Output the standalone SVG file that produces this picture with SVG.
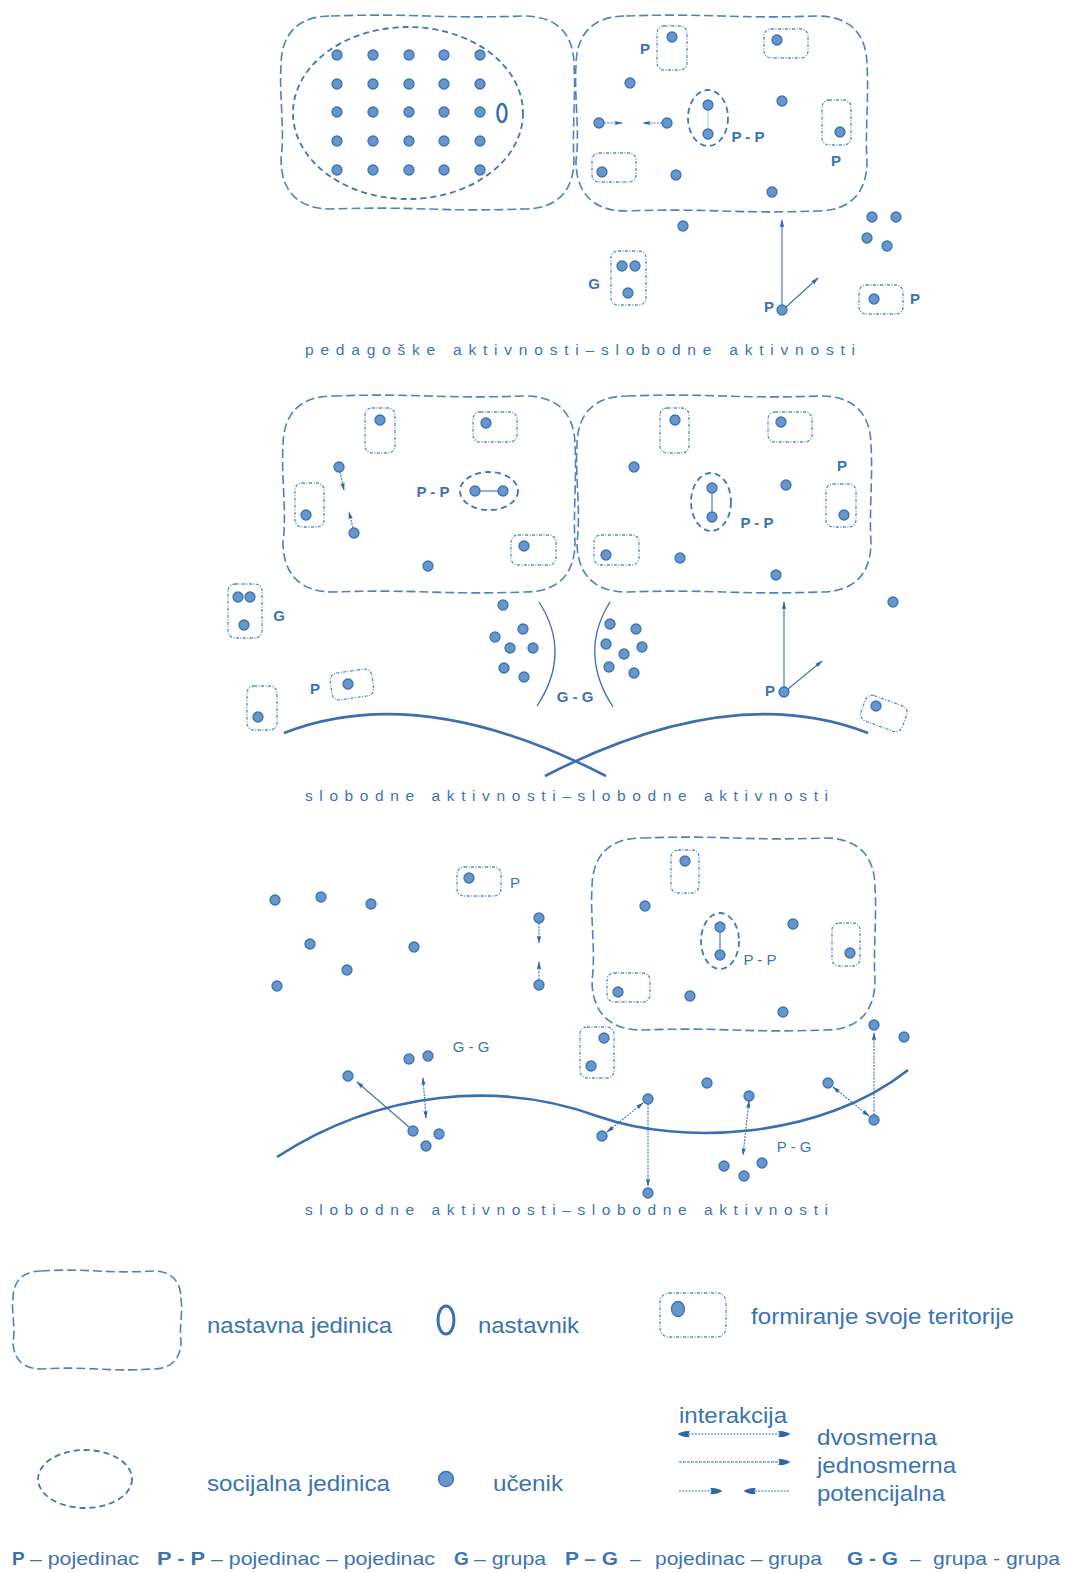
<svg xmlns="http://www.w3.org/2000/svg" width="1068" height="1573" viewBox="0 0 1068 1573">
<defs>
<style>
.blob{fill:none;stroke:#4b82c0;stroke-width:1.6;stroke-dasharray:9 4}
.terr{fill:none;stroke:#5a8cc6;stroke-width:1.3;stroke-dasharray:3 1.5 1 1.5}
.soc{fill:none;stroke:#3f76b5;stroke-width:1.8;stroke-dasharray:6 4}
.dot{fill:#6597cd;stroke:#3d72b2;stroke-width:1.3}
.ln{stroke:#3d72b2;stroke-width:1.1;fill:none}
.dt{stroke-dasharray:2 1.2}
.curve{fill:none;stroke:#3a6fb0;stroke-width:2.6}
.arc{fill:none;stroke:#3a6fb0;stroke-width:1.3}
.lbl{font-family:"Liberation Sans",Arial,sans-serif;font-weight:bold;font-size:15px;fill:#3c73b3;text-anchor:middle}
.lbn{font-family:"Liberation Sans",Arial,sans-serif;font-size:15px;fill:#3c73b3;text-anchor:middle}
.cap{font-family:"Liberation Sans",Arial,sans-serif;font-size:15.5px;fill:#3c73b3}
.leg{font-family:"Liberation Sans",Arial,sans-serif;font-size:22px;fill:#3c73b3}
.foot{font-family:"Liberation Sans",Arial,sans-serif;font-size:19px;fill:#3c73b3}
.b{font-weight:bold}
</style>
<marker id="ah" viewBox="0 0 10 6" refX="9" refY="3" markerWidth="8" markerHeight="6" markerUnits="userSpaceOnUse" orient="auto-start-reverse">
<path d="M0,0.3 L10,3 L0,5.7 Q2,3 0,0.3Z" fill="#2f66a8"/>
</marker>
<marker id="ahl" viewBox="0 0 10 6" refX="9" refY="3" markerWidth="12" markerHeight="8" markerUnits="userSpaceOnUse" orient="auto-start-reverse">
<path d="M0,0.5 C4,0 8,1.5 10,3 C8,4.5 4,6 0,5.5 Q2,3 0,0.5Z" fill="#2f66a8"/>
</marker>
</defs>
<rect width="1068" height="1573" fill="#ffffff"/>

<!-- ===== TOP PANEL ===== -->
<g id="top-unit-left">
<path class="blob" d="M331 16 C419 13,436 19,524 16 C556.5 16,574 33.5,574 66 C576 93,572 132,574 159 C574 191.5,556.5 209,524 209 C436 212,419 206,331 209 C298.5 209,281 191.5,281 159 C285 132,279 93,281 66 C281 33.5,298.5 16,331 16Z"/>
</g>
<g id="top-social-big">
<ellipse class="soc" cx="408" cy="113" rx="115" ry="86"/>
<g>
<circle class="dot" cx="337" cy="55" r="5"/><circle class="dot" cx="373" cy="55" r="5"/><circle class="dot" cx="409" cy="55" r="5"/><circle class="dot" cx="444" cy="55" r="5"/><circle class="dot" cx="480" cy="55" r="5"/>
<circle class="dot" cx="337" cy="84" r="5"/><circle class="dot" cx="373" cy="84" r="5"/><circle class="dot" cx="409" cy="84" r="5"/><circle class="dot" cx="444" cy="84" r="5"/><circle class="dot" cx="480" cy="84" r="5"/>
<circle class="dot" cx="337" cy="112" r="5"/><circle class="dot" cx="373" cy="112" r="5"/><circle class="dot" cx="409" cy="112" r="5"/><circle class="dot" cx="444" cy="112" r="5"/><circle class="dot" cx="480" cy="112" r="5"/>
<circle class="dot" cx="337" cy="141" r="5"/><circle class="dot" cx="373" cy="141" r="5"/><circle class="dot" cx="409" cy="141" r="5"/><circle class="dot" cx="444" cy="141" r="5"/><circle class="dot" cx="480" cy="141" r="5"/>
<circle class="dot" cx="337" cy="170" r="5"/><circle class="dot" cx="373" cy="170" r="5"/><circle class="dot" cx="409" cy="170" r="5"/><circle class="dot" cx="444" cy="170" r="5"/><circle class="dot" cx="480" cy="170" r="5"/>
</g>
<ellipse cx="502" cy="113" rx="4.5" ry="9" fill="none" stroke="#3a6fb0" stroke-width="2.5"/>
</g>
<g id="top-unit-right">
<path class="blob" d="M626 16 C713 13,730 19,817 16 C849.5 16,867 33.5,867 66 C869 94,865 133,867 161 C867 193.5,849.5 211,817 211 C730 214,713 208,626 211 C593.5 211,576 193.5,576 161 C580 133,574 94,576 66 C576 33.5,593.5 16,626 16Z"/>
</g>
<g id="top-t1"><rect class="terr" x="657" y="26" width="30" height="44" rx="7"/><circle class="dot" cx="672" cy="37" r="5"/><text class="lbl" x="645" y="54">P</text></g>
<g id="top-t2"><rect class="terr" x="764" y="29" width="44" height="29" rx="7"/><circle class="dot" cx="777" cy="40" r="5"/></g>
<g id="top-t3"><rect class="terr" x="822" y="100" width="29" height="45" rx="7"/><circle class="dot" cx="840" cy="132" r="5"/><text class="lbl" x="836" y="166">P</text></g>
<g id="top-t4"><rect class="terr" x="592" y="153" width="44" height="29" rx="7"/><circle class="dot" cx="602" cy="172" r="5"/></g>
<g id="top-pp">
<ellipse class="soc" cx="708" cy="118" rx="20" ry="28"/>
<line x1="708" y1="110" x2="708" y2="129" stroke="#a9c2e0" stroke-width="1"/>
<circle class="dot" cx="708" cy="105" r="5"/><circle class="dot" cx="708" cy="134" r="5"/>
<text class="lbl" x="748" y="142">P - P</text>
</g>
<g id="top-free">
<circle class="dot" cx="630" cy="83" r="5"/><circle class="dot" cx="782" cy="101" r="5"/><circle class="dot" cx="676" cy="175" r="5"/><circle class="dot" cx="772" cy="192" r="5"/><circle class="dot" cx="683" cy="226" r="5"/>
<circle class="dot" cx="599" cy="123" r="5"/><circle class="dot" cx="667" cy="123" r="5"/>
<circle class="dot" cx="872" cy="217" r="5"/><circle class="dot" cx="896" cy="217" r="5"/><circle class="dot" cx="867" cy="238" r="5"/><circle class="dot" cx="887" cy="246" r="5"/>
</g>
<g id="top-g"><rect class="terr" x="611" y="251" width="35" height="54" rx="7"/><circle class="dot" cx="622" cy="266" r="5"/><circle class="dot" cx="635" cy="266" r="5"/><circle class="dot" cx="628" cy="293" r="5"/><text class="lbl" x="594" y="289">G</text></g>
<g id="top-p-arrow"><circle class="dot" cx="782" cy="310" r="5"/><text class="lbl" x="769" y="312">P</text></g>
<g id="top-t6"><rect class="terr" x="859" y="285" width="44" height="29" rx="7"/><circle class="dot" cx="874" cy="299" r="5"/><text class="lbl" x="915" y="304">P</text></g>
<text class="cap" x="305" y="355" textLength="550" lengthAdjust="spacing">pedagoške aktivnosti–slobodne aktivnosti</text>

<!-- ===== MIDDLE PANEL ===== -->
<g id="mid-unit-left">
<path class="blob" d="M333 396 C421 393,437 399,525 396 C557.5 396,575 413.5,575 446 C577 474,573 514,575 542 C575 574.5,557.5 592,525 592 C437 595,421 589,333 592 C300.5 592,283 574.5,283 542 C287 514,281 474,283 446 C283 413.5,300.5 396,333 396Z"/>
</g>
<g id="mid-unit-right">
<path class="blob" d="M627 396 C715 393,733 399,821 396 C853.5 396,871 413.5,871 446 C873 474,869 514,871 542 C871 574.5,853.5 592,821 592 C733 595,715 589,627 592 C594.5 592,577 574.5,577 542 C581 514,575 474,577 446 C577 413.5,594.5 396,627 396Z"/>
</g>
<g id="mid-m1"><rect class="terr" x="365" y="408" width="30" height="45" rx="7"/><circle class="dot" cx="380" cy="420" r="5"/></g>
<g id="mid-m2"><rect class="terr" x="473" y="412" width="44" height="30" rx="7"/><circle class="dot" cx="486" cy="423" r="5"/></g>
<g id="mid-m3"><rect class="terr" x="295" y="483" width="29" height="44" rx="7"/><circle class="dot" cx="306" cy="515" r="5"/></g>
<g id="mid-m4"><rect class="terr" x="511" y="535" width="45" height="30" rx="7"/><circle class="dot" cx="524" cy="546" r="5"/></g>
<g id="mid-m5"><rect class="terr" x="660" y="408" width="29" height="45" rx="7"/><circle class="dot" cx="675" cy="420" r="5"/></g>
<g id="mid-m6"><rect class="terr" x="768" y="412" width="44" height="30" rx="7"/><circle class="dot" cx="781" cy="422" r="5"/></g>
<g id="mid-m7"><rect class="terr" x="826" y="484" width="30" height="43" rx="7"/><circle class="dot" cx="844" cy="515" r="5"/><text class="lbl" x="842" y="471">P</text></g>
<g id="mid-m8"><rect class="terr" x="594" y="535" width="45" height="30" rx="7"/><circle class="dot" cx="606" cy="555" r="5"/></g>
<g id="mid-pp1">
<ellipse class="soc" cx="489" cy="491" rx="29" ry="19"/>
<line x1="480" y1="491" x2="498" y2="491" stroke="#3d72b2" stroke-width="1.1"/>
<circle class="dot" cx="475" cy="491" r="5"/><circle class="dot" cx="503" cy="491" r="5"/>
<text class="lbl" x="433" y="497">P - P</text>
</g>
<g id="mid-pp2">
<ellipse class="soc" cx="711" cy="502" rx="20" ry="29"/>
<line x1="712" y1="493" x2="712" y2="512" stroke="#3d72b2" stroke-width="1.1"/>
<circle class="dot" cx="712" cy="488" r="5"/><circle class="dot" cx="712" cy="517" r="5"/>
<text class="lbl" x="757" y="528">P - P</text>
</g>
<g id="mid-free">
<circle class="dot" cx="428" cy="566" r="5"/><circle class="dot" cx="634" cy="467" r="5"/><circle class="dot" cx="786" cy="485" r="5"/><circle class="dot" cx="680" cy="558" r="5"/><circle class="dot" cx="776" cy="575" r="5"/>
<circle class="dot" cx="339" cy="467" r="5"/><circle class="dot" cx="354" cy="533" r="5"/>
<circle class="dot" cx="503" cy="605" r="5"/><circle class="dot" cx="893" cy="602" r="5"/>
</g>
<g id="mid-gg">
<path class="arc" d="M539 602 Q572 653 537 706"/>
<path class="arc" d="M610 602 Q578 653 613 707"/>
<circle class="dot" cx="523" cy="629" r="5"/><circle class="dot" cx="495" cy="637" r="5"/><circle class="dot" cx="510" cy="648" r="5"/><circle class="dot" cx="533" cy="648" r="5"/><circle class="dot" cx="504" cy="668" r="5"/><circle class="dot" cx="524" cy="677" r="5"/>
<circle class="dot" cx="610" cy="624" r="5"/><circle class="dot" cx="636" cy="629" r="5"/><circle class="dot" cx="606" cy="644" r="5"/><circle class="dot" cx="624" cy="654" r="5"/><circle class="dot" cx="642" cy="647" r="5"/><circle class="dot" cx="609" cy="667" r="5"/><circle class="dot" cx="634" cy="673" r="5"/>
<text class="lbl" x="575" y="702">G - G</text>
</g>
<g id="mid-g"><rect class="terr" x="228" y="584" width="34" height="54" rx="7"/><circle class="dot" cx="238" cy="597" r="5"/><circle class="dot" cx="250" cy="597" r="5"/><circle class="dot" cx="244" cy="625" r="5"/><text class="lbl" x="279" y="621">G</text></g>
<g id="mid-m10"><rect class="terr" x="331" y="671" width="42" height="27" rx="7" transform="rotate(-8 352 685)"/><circle class="dot" cx="348" cy="684" r="5"/><text class="lbl" x="315" y="694">P</text></g>
<g id="mid-m11"><rect class="terr" x="247" y="686" width="30" height="44" rx="7"/><circle class="dot" cx="258" cy="717" r="5"/></g>
<g id="mid-m12"><rect class="terr" x="862" y="700" width="44" height="27" rx="7" transform="rotate(20 884 713)"/><circle class="dot" cx="876" cy="706" r="5"/></g>
<g id="mid-p-arrow"><circle class="dot" cx="784" cy="692" r="5"/><text class="lbl" x="770" y="696">P</text></g>
<g id="mid-curves">
<path class="curve" d="M284 733 Q420 680 606 776"/>
<path class="curve" d="M868 733 Q732 680 545 776"/>
</g>
<text class="cap" x="305" y="801" textLength="523" lengthAdjust="spacing">slobodne aktivnosti–slobodne aktivnosti</text>

<!-- ===== BOTTOM PANEL ===== -->
<g id="bot-unit">
<path class="blob" d="M642 838 C727 835,740 841,825 838 C857.5 838,875 855.5,875 888 C877 915,873 953,875 980 C875 1012.5,857.5 1030,825 1030 C740 1033,727 1027,642 1030 C609.5 1030,592 1012.5,592 980 C596 953,590 915,592 888 C592 855.5,609.5 838,642 838Z"/>
</g>
<g id="bot-b1"><rect class="terr" x="457" y="867" width="44" height="29" rx="7"/><circle class="dot" cx="469" cy="878" r="5"/><text class="lbn" x="515" y="888">P</text></g>
<g id="bot-b2"><rect class="terr" x="671" y="850" width="28" height="43" rx="7"/><circle class="dot" cx="685" cy="861" r="5"/></g>
<g id="bot-b3"><rect class="terr" x="832" y="923" width="28" height="43" rx="7"/><circle class="dot" cx="850" cy="953" r="5"/></g>
<g id="bot-b4"><rect class="terr" x="607" y="973" width="43" height="29" rx="7"/><circle class="dot" cx="618" cy="992" r="5"/></g>
<g id="bot-b5"><rect class="terr" x="580" y="1027" width="34" height="51" rx="7"/><circle class="dot" cx="604" cy="1038" r="5"/><circle class="dot" cx="591" cy="1066" r="5"/></g>
<g id="bot-pp">
<ellipse class="soc" cx="720" cy="941" rx="19" ry="28"/>
<line x1="720" y1="932" x2="720" y2="950" stroke="#3d72b2" stroke-width="1.1"/>
<circle class="dot" cx="720" cy="927" r="5"/><circle class="dot" cx="720" cy="955" r="5"/>
<text class="lbn" x="760" y="965">P - P</text>
</g>
<g id="bot-free">
<circle class="dot" cx="275" cy="900" r="5"/><circle class="dot" cx="321" cy="897" r="5"/><circle class="dot" cx="371" cy="904" r="5"/><circle class="dot" cx="310" cy="944" r="5"/><circle class="dot" cx="414" cy="947" r="5"/><circle class="dot" cx="347" cy="970" r="5"/><circle class="dot" cx="277" cy="986" r="5"/>
<circle class="dot" cx="539" cy="918" r="5"/><circle class="dot" cx="539" cy="985" r="5"/>
<circle class="dot" cx="645" cy="906" r="5"/><circle class="dot" cx="793" cy="924" r="5"/><circle class="dot" cx="690" cy="996" r="5"/><circle class="dot" cx="783" cy="1012" r="5"/>
<circle class="dot" cx="874" cy="1025" r="5"/><circle class="dot" cx="904" cy="1037" r="5"/><circle class="dot" cx="707" cy="1083" r="5"/><circle class="dot" cx="828" cy="1083" r="5"/>
<circle class="dot" cx="648" cy="1099" r="5"/><circle class="dot" cx="749" cy="1096" r="5"/><circle class="dot" cx="602" cy="1136" r="5"/><circle class="dot" cx="874" cy="1120" r="5"/><circle class="dot" cx="648" cy="1193" r="5"/>
<circle class="dot" cx="348" cy="1076" r="5"/>
</g>
<g id="bot-gg">
<circle class="dot" cx="409" cy="1059" r="5"/><circle class="dot" cx="428" cy="1056" r="5"/>
<circle class="dot" cx="413" cy="1131" r="5"/><circle class="dot" cx="439" cy="1134" r="5"/><circle class="dot" cx="426" cy="1146" r="5"/>
<text class="lbn" x="471" y="1052">G - G</text>
</g>
<g id="bot-pg">
<circle class="dot" cx="724" cy="1166" r="5"/><circle class="dot" cx="744" cy="1176" r="5"/><circle class="dot" cx="762" cy="1163" r="5"/>
<text class="lbn" x="794" y="1152">P - G</text>
</g>
<g id="bot-curve"><path class="curve" d="M277 1157 C380 1090,500 1080,600 1117 C680 1145,820 1140,908 1070"/></g>
<text class="cap" x="305" y="1215" textLength="523" lengthAdjust="spacing">slobodne aktivnosti–slobodne aktivnosti</text>

<!-- ===== CONNECTORS ===== -->
<g id="connectors">
<line class="ln dt" x1="604" y1="123" x2="622" y2="123" marker-end="url(#ah)"/>
<line class="ln dt" x1="662" y1="123" x2="643" y2="123" marker-end="url(#ah)"/>
<line class="ln" x1="782" y1="305" x2="782" y2="220" marker-end="url(#ah)"/>
<line class="ln" x1="786" y1="307" x2="818" y2="278" marker-end="url(#ah)"/>
<line class="ln dt" x1="340" y1="472" x2="344" y2="490" marker-end="url(#ah)"/>
<line class="ln dt" x1="353" y1="528" x2="349" y2="512" marker-end="url(#ah)"/>
<line class="ln" x1="784" y1="687" x2="784" y2="602" marker-end="url(#ah)"/>
<line class="ln" x1="788" y1="689" x2="822" y2="661" marker-end="url(#ah)"/>
<line class="ln dt" x1="539" y1="923" x2="539" y2="943" marker-end="url(#ah)"/>
<line class="ln dt" x1="539" y1="980" x2="539" y2="962" marker-end="url(#ah)"/>
<line class="ln" x1="409" y1="1127" x2="357" y2="1082" marker-end="url(#ah)"/>
<line class="ln dt" x1="423" y1="1078" x2="426" y2="1118" marker-start="url(#ah)" marker-end="url(#ah)"/>
<line class="ln dt" x1="607" y1="1132" x2="643" y2="1103" marker-start="url(#ah)" marker-end="url(#ah)"/>
<line class="ln dt" x1="648" y1="1104" x2="648" y2="1186" marker-end="url(#ah)"/>
<line class="ln dt" x1="749" y1="1101" x2="743" y2="1155" marker-start="url(#ah)" marker-end="url(#ah)"/>
<line class="ln dt" x1="833" y1="1087" x2="869" y2="1116" marker-start="url(#ah)" marker-end="url(#ah)"/>
<line class="ln dt" x1="874" y1="1115" x2="874" y2="1033" marker-end="url(#ah)"/>
</g>

<!-- ===== LEGEND ===== -->
<g id="legend-unit">
<path class="blob" d="M41 1271 C91 1268,103 1274,153 1271 C171 1271,181 1281,181 1299 C183 1310,179 1330,181 1341 C181 1359,171 1369,153 1369 C103 1372,91 1366,41 1369 C23 1369,13 1359,13 1341 C16 1330,11 1310,13 1299 C13 1281,23 1271,41 1271Z"/>
<text class="leg" x="207" y="1333" textLength="185" lengthAdjust="spacingAndGlyphs">nastavna jedinica</text>
</g>
<g id="legend-teacher">
<ellipse cx="446" cy="1320" rx="8" ry="14" fill="none" stroke="#3a6fb0" stroke-width="3"/>
<text class="leg" x="478" y="1333" textLength="101" lengthAdjust="spacingAndGlyphs">nastavnik</text>
</g>
<g id="legend-territory">
<rect class="terr" x="660" y="1293" width="66" height="44" rx="9"/>
<ellipse class="dot" cx="678" cy="1309" rx="6.5" ry="7.5"/>
<text class="leg" x="751" y="1324" textLength="263" lengthAdjust="spacingAndGlyphs">formiranje svoje teritorije</text>
</g>
<g id="legend-social">
<ellipse class="soc" cx="85" cy="1479" rx="47" ry="29"/>
<text class="leg" x="207" y="1491" textLength="183" lengthAdjust="spacingAndGlyphs">socijalna jedinica</text>
</g>
<g id="legend-student">
<circle class="dot" cx="446" cy="1479" r="7.5"/>
<text class="leg" x="493" y="1491" textLength="70" lengthAdjust="spacingAndGlyphs">učenik</text>
</g>
<g id="legend-interaction">
<text class="leg" x="679" y="1423" textLength="108" lengthAdjust="spacingAndGlyphs">interakcija</text>
<line class="ln dt" x1="679" y1="1434" x2="789" y2="1434" marker-start="url(#ahl)" marker-end="url(#ahl)" stroke-width="1.4"/>
<text class="leg" x="817" y="1445" textLength="120" lengthAdjust="spacingAndGlyphs">dvosmerna</text>
<line class="ln" x1="679" y1="1462" x2="789" y2="1462" marker-end="url(#ahl)" stroke-width="0.9" stroke-dasharray="3 1"/>
<text class="leg" x="817" y="1473" textLength="139" lengthAdjust="spacingAndGlyphs">jednosmerna</text>
<line class="ln dt" x1="679" y1="1491" x2="721" y2="1491" marker-end="url(#ahl)" stroke-width="1.4"/>
<line class="ln dt" x1="789" y1="1491" x2="745" y2="1491" marker-end="url(#ahl)" stroke-width="1.4"/>
<text class="leg" x="817" y="1501" textLength="128" lengthAdjust="spacingAndGlyphs">potencijalna</text>
</g>
<g id="legend-abbrev">
<text class="foot b" x="12" y="1565">P</text>
<text class="foot" x="30" y="1565" textLength="109" lengthAdjust="spacingAndGlyphs">– pojedinac</text>
<text class="foot b" x="157" y="1565" textLength="48" lengthAdjust="spacingAndGlyphs">P - P</text>
<text class="foot" x="211" y="1565" textLength="224" lengthAdjust="spacingAndGlyphs">– pojedinac – pojedinac</text>
<text class="foot b" x="454" y="1565">G</text>
<text class="foot" x="474" y="1565" textLength="72" lengthAdjust="spacingAndGlyphs">– grupa</text>
<text class="foot b" x="565" y="1565" textLength="53" lengthAdjust="spacingAndGlyphs">P – G</text>
<text class="foot" x="630" y="1565">–</text>
<text class="foot" x="655" y="1565" textLength="167" lengthAdjust="spacingAndGlyphs">pojedinac – grupa</text>
<text class="foot b" x="847" y="1565" textLength="51" lengthAdjust="spacingAndGlyphs">G - G</text>
<text class="foot" x="910" y="1565">–</text>
<text class="foot" x="933" y="1565" textLength="127" lengthAdjust="spacingAndGlyphs">grupa - grupa</text>
</g>
</svg>
